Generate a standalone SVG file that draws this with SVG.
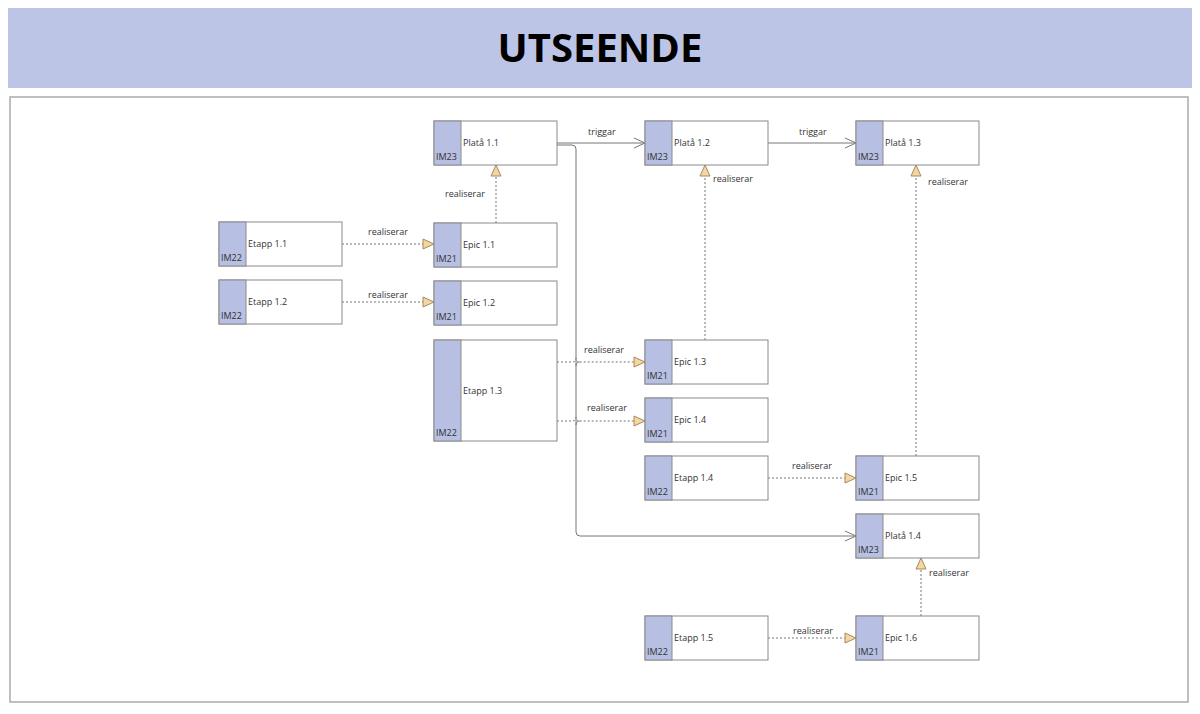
<svg xmlns="http://www.w3.org/2000/svg" width="1200" height="714" viewBox="0 0 1200 714">
<style>
text{font-family:"Open Sans","Liberation Sans",sans-serif;fill:#333;font-size:9px}
.n rect.b{fill:#fff;stroke:#8a8a8a;stroke-width:1}
.n rect.s{fill:#b7bfe2;stroke:#8a8a8a;stroke-width:1}
.c path{fill:none;stroke:#777;stroke-width:1}
.c path.d{stroke-dasharray:2,2}
</style>
<defs>
<marker id="r" markerWidth="14" markerHeight="12" refX="12" refY="6" orient="auto" markerUnits="userSpaceOnUse"><path d="M1,1 L12,6 L1,11 Z" fill="#f3d6a4" stroke="#a88a5a"/></marker>
<marker id="t" markerWidth="14" markerHeight="12" refX="12" refY="6" orient="auto" markerUnits="userSpaceOnUse"><path d="M1,1 L12,6 L1,11" fill="none" stroke="#777"/></marker>
</defs>
<rect x="0" y="0" width="1200" height="714" fill="#fff"/>
<rect x="8" y="8" width="1184" height="80" fill="#bcc5e6"/>
<text x="600" y="62" text-anchor="middle" style="font-family:'Open Sans','Liberation Sans',sans-serif;font-size:40px;font-weight:bold;fill:#000">UTSEENDE</text>
<rect x="10" y="97" width="1178" height="605" fill="#fff" stroke="#aaa" stroke-width="1.5"/>
<g class="c">
<path d="M557,143 H645" marker-end="url(#t)"/><text x="588" y="135">triggar</text>
<path d="M768,143 H856" marker-end="url(#t)"/><text x="799" y="135">triggar</text>
<path d="M557,145 H572 Q576,145 576,149 V532 Q576,536 580,536 H856" marker-end="url(#t)"/>
<path class="d" d="M496,223 V165" marker-end="url(#r)"/><text x="445" y="197">realiserar</text>
<path class="d" d="M705,340 V165" marker-end="url(#r)"/><text x="713" y="182">realiserar</text>
<path class="d" d="M916,456 V165" marker-end="url(#r)"/><text x="928" y="185">realiserar</text>
<path class="d" d="M921,616 V558" marker-end="url(#r)"/><text x="929" y="576">realiserar</text>
<path class="d" d="M342,244 H434" marker-end="url(#r)"/><text x="368" y="235">realiserar</text>
<path class="d" d="M342,302 H434" marker-end="url(#r)"/><text x="368" y="298">realiserar</text>
<path class="d" d="M557,362 H572 Q576,362 576,358 Q576,362 580,362 Q576,362 576,366 Q576,362 580,362 H645" marker-end="url(#r)"/><text x="584" y="353">realiserar</text>
<path class="d" d="M557,421 H572 Q576,421 576,417 Q576,421 580,421 Q576,421 576,425 Q576,421 580,421 H645" marker-end="url(#r)"/><text x="587" y="411">realiserar</text>
<path class="d" d="M768,478 H856" marker-end="url(#r)"/><text x="792" y="469">realiserar</text>
<path class="d" d="M768,638 H856" marker-end="url(#r)"/><text x="793" y="634">realiserar</text>
</g>
<g id="platta11" class="n"><rect class="b" x="434" y="121" width="123" height="44"/><rect class="s" x="434" y="121" width="27" height="44"/><text x="463" y="146">Platå 1.1</text><text x="436" y="160">IM23</text></g>
<g id="platta12" class="n"><rect class="b" x="645" y="121" width="123" height="44"/><rect class="s" x="645" y="121" width="27" height="44"/><text x="674" y="146">Platå 1.2</text><text x="647" y="160">IM23</text></g>
<g id="platta13" class="n"><rect class="b" x="856" y="121" width="123" height="44"/><rect class="s" x="856" y="121" width="27" height="44"/><text x="885" y="146">Platå 1.3</text><text x="858" y="160">IM23</text></g>
<g id="etapp11" class="n"><rect class="b" x="219" y="222" width="123" height="44"/><rect class="s" x="219" y="222" width="27" height="44"/><text x="248" y="247">Etapp 1.1</text><text x="221" y="261">IM22</text></g>
<g id="epic11" class="n"><rect class="b" x="434" y="223" width="123" height="44"/><rect class="s" x="434" y="223" width="27" height="44"/><text x="463" y="248">Epic 1.1</text><text x="436" y="262">IM21</text></g>
<g id="etapp12" class="n"><rect class="b" x="219" y="280" width="123" height="44"/><rect class="s" x="219" y="280" width="27" height="44"/><text x="248" y="305">Etapp 1.2</text><text x="221" y="319">IM22</text></g>
<g id="epic12" class="n"><rect class="b" x="434" y="281" width="123" height="44"/><rect class="s" x="434" y="281" width="27" height="44"/><text x="463" y="306">Epic 1.2</text><text x="436" y="320">IM21</text></g>
<g id="etapp13" class="n"><rect class="b" x="434" y="340" width="123" height="101"/><rect class="s" x="434" y="340" width="27" height="101"/><text x="463" y="394">Etapp 1.3</text><text x="436" y="436">IM22</text></g>
<g id="epic13" class="n"><rect class="b" x="645" y="340" width="123" height="44"/><rect class="s" x="645" y="340" width="27" height="44"/><text x="674" y="365">Epic 1.3</text><text x="647" y="379">IM21</text></g>
<g id="epic14" class="n"><rect class="b" x="645" y="398" width="123" height="44"/><rect class="s" x="645" y="398" width="27" height="44"/><text x="674" y="423">Epic 1.4</text><text x="647" y="437">IM21</text></g>
<g id="etapp14" class="n"><rect class="b" x="645" y="456" width="123" height="44"/><rect class="s" x="645" y="456" width="27" height="44"/><text x="674" y="481">Etapp 1.4</text><text x="647" y="495">IM22</text></g>
<g id="epic15" class="n"><rect class="b" x="856" y="456" width="123" height="44"/><rect class="s" x="856" y="456" width="27" height="44"/><text x="885" y="481">Epic 1.5</text><text x="858" y="495">IM21</text></g>
<g id="platta14" class="n"><rect class="b" x="856" y="514" width="123" height="44"/><rect class="s" x="856" y="514" width="27" height="44"/><text x="885" y="539">Platå 1.4</text><text x="858" y="553">IM23</text></g>
<g id="etapp15" class="n"><rect class="b" x="645" y="616" width="123" height="44"/><rect class="s" x="645" y="616" width="27" height="44"/><text x="674" y="641">Etapp 1.5</text><text x="647" y="655">IM22</text></g>
<g id="epic16" class="n"><rect class="b" x="856" y="616" width="123" height="44"/><rect class="s" x="856" y="616" width="27" height="44"/><text x="885" y="641">Epic 1.6</text><text x="858" y="655">IM21</text></g>
</svg>
